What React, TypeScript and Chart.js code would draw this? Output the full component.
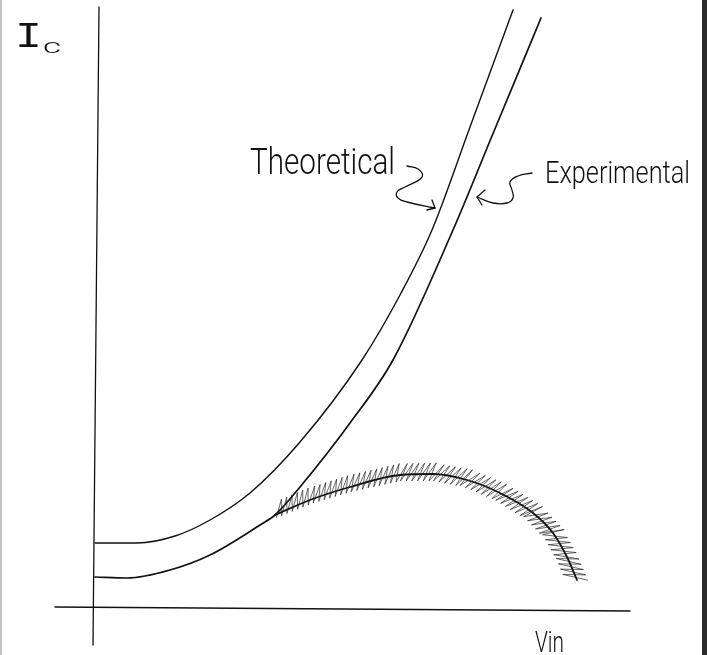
import React, { useEffect, useRef } from "react";
import { Chart, registerables } from "chart.js";

Chart.register(...registerables);

type P = { x: number; y: number };

// Data space: Vin (horizontal) and Ic (vertical), arbitrary units.
const theoretical: P[] = [
  { x: 0.0, y: 0.64 },
  { x: 0.42, y: 0.64 },
  { x: 0.8, y: 0.71 },
  { x: 1.15, y: 0.87 },
  { x: 1.55, y: 1.14 },
  { x: 2.05, y: 1.65 },
  { x: 2.67, y: 2.47 },
  { x: 3.05, y: 3.12 },
  { x: 3.37, y: 3.77 },
  { x: 3.75, y: 4.8 },
  { x: 4.18, y: 5.97 },
];

const experimental: P[] = [
  { x: 0.0, y: 0.3 },
  { x: 0.32, y: 0.29 },
  { x: 0.75, y: 0.37 },
  { x: 1.15, y: 0.52 },
  { x: 1.65, y: 0.82 },
  { x: 1.8, y: 0.92 },
  { x: 2.05, y: 1.2 },
  { x: 2.55, y: 1.84 },
  { x: 2.98, y: 2.47 },
  { x: 3.58, y: 3.77 },
  { x: 3.97, y: 4.71 },
  { x: 4.46, y: 5.89 },
];

const breakdownCurve: P[] = [
  { x: 1.8, y: 0.92 },
  { x: 2.15, y: 1.07 },
  { x: 2.55, y: 1.2 },
  { x: 3.05, y: 1.32 },
  { x: 3.38, y: 1.33 },
  { x: 3.72, y: 1.27 },
  { x: 4.05, y: 1.14 },
  { x: 4.38, y: 0.94 },
  { x: 4.58, y: 0.74 },
  { x: 4.72, y: 0.5 },
  { x: 4.82, y: 0.27 },
];

const yAxisLine: P[] = [
  { x: 0.04, y: 6.0 },
  { x: -0.02, y: -0.38 },
];

const xAxisLine: P[] = [
  { x: -0.4, y: 0.0 },
  { x: 5.35, y: -0.04 },
];

const theoreticalArrow: P[] = [
  { x: 3.12, y: 4.41 },
  { x: 3.23, y: 4.38 },
  { x: 3.27, y: 4.3 },
  { x: 3.1, y: 4.2 },
  { x: 3.02, y: 4.15 },
  { x: 3.03, y: 4.09 },
  { x: 3.12, y: 4.05 },
  { x: 3.4, y: 3.99 },
];

const theoreticalArrowHead: P[] = [
  { x: 3.37, y: 4.07 },
  { x: 3.4, y: 3.99 },
  { x: 3.32, y: 3.97 },
];

const experimentalArrow: P[] = [
  { x: 4.37, y: 4.34 },
  { x: 4.23, y: 4.31 },
  { x: 4.15, y: 4.25 },
  { x: 4.17, y: 4.17 },
  { x: 4.18, y: 4.09 },
  { x: 4.12, y: 4.04 },
  { x: 3.98, y: 4.04 },
  { x: 3.82, y: 4.1 },
];

const experimentalArrowHead: P[] = [
  { x: 3.9, y: 4.17 },
  { x: 3.82, y: 4.1 },
  { x: 3.87, y: 4.02 },
];

// Text labels anchored in data space (left, baseline)
const labelTexts = ["Theoretical", "Experimental", "I", "c", "Vin"];
const labelAnchors: P[] = [
  { x: 1.55, y: 4.33 },
  { x: 4.5, y: 4.24 },
  { x: -0.8, y: 5.6 },
  { x: -0.52, y: 5.54 },
  { x: 4.4, y: -0.45 },
];

const X_MIN = -0.93;
const X_MAX = 6.07;
const Y_MIN = -0.48;
const Y_MAX = 6.07;

const HATCH_INDEX = 2;

const SANS = "Roboto, 'Liberation Sans', Arial, sans-serif";
const labelStyles = [
  { family: SANS, weight: 300, size: 28, width: 145, sy: 1.3 },
  { family: SANS, weight: 300, size: 25, width: 145, sy: 1.25 },
  { family: "'Liberation Mono', 'DejaVu Sans Mono', monospace", weight: 400, size: 35, width: 27, sy: 1.05 },
  { family: SANS, weight: 300, size: 20, width: 18, sy: 1.0 },
  { family: SANS, weight: 300, size: 22, width: 29, sy: 1.3 },
];

const hatchPlugin = {
  id: "hatch",
  afterDatasetsDraw(chart: any) {
    const meta = chart.getDatasetMeta(HATCH_INDEX);
    const pts = meta.data.map((e: any) => ({ x: e.x, y: e.y }));
    const ctx = chart.ctx as CanvasRenderingContext2D;
    ctx.save();
    ctx.strokeStyle = "rgba(30,30,30,0.75)";
    ctx.lineWidth = 0.9;
    ctx.lineJoin = "round";
    ctx.beginPath();
    const step = 2.9;
    const slant = 0.6;
    let carry = 2;
    let toggle = false;
    let started = false;
    let total = 0;
    let full = 0;
    for (let i = 0; i < pts.length - 1; i++) {
      full += Math.hypot(pts[i + 1].x - pts[i].x, pts[i + 1].y - pts[i].y);
    }
    for (let i = 0; i < pts.length - 1; i++) {
      const a = pts[i];
      const b = pts[i + 1];
      const dx = b.x - a.x;
      const dy = b.y - a.y;
      const len = Math.hypot(dx, dy);
      if (len === 0) continue;
      const tx = dx / len;
      const ty = dy / len;
      const nx = ty;
      const ny = -tx;
      let s = carry;
      while (s < len) {
        const f = (total + s) / full;
        // marks sit above the curve at first, straddle it further along
        const up = 12 - 2 * f;
        const down = 3 + 8 * f;
        const px = a.x + tx * s;
        const py = a.y + ty * s;
        let qx: number;
        let qy: number;
        if (toggle) {
          qx = px + nx * up + tx * slant * up;
          qy = py + ny * up + ty * slant * up;
        } else {
          qx = px - nx * down - tx * slant * down;
          qy = py - ny * down - ty * slant * down;
        }
        if (!started) {
          ctx.moveTo(qx, qy);
          started = true;
        } else {
          ctx.lineTo(qx, qy);
        }
        toggle = !toggle;
        s += step;
      }
      carry = s - len;
      total += len;
    }
    ctx.stroke();
    ctx.restore();
  },
};

const labelPlugin = {
  id: "labels",
  afterDraw(chart: any) {
    const ctx = chart.ctx as CanvasRenderingContext2D;
    const xs = chart.scales.x;
    const ys = chart.scales.y;
    labelTexts.forEach((t, i) => {
      const st = labelStyles[i];
      const a = labelAnchors[i];
      const px = xs.getPixelForValue(a.x);
      const py = ys.getPixelForValue(a.y);
      ctx.save();
      ctx.font = `${st.weight} ${st.size}px ${st.family}`;
      ctx.fillStyle = "#111";
      ctx.textAlign = "left";
      ctx.textBaseline = "alphabetic";
      const m = ctx.measureText(t).width;
      const sx = st.width > 0 ? st.width / m : 1;
      ctx.translate(px, py);
      ctx.scale(sx, st.sy);
      ctx.fillText(t, 0, 0);
      ctx.restore();
    });
  },
};

function line(data: P[], width: number, tension: number, monotone = false, color = "#111") {
  return {
    data,
    borderColor: color,
    borderWidth: width,
    tension,
    cubicInterpolationMode: monotone ? ("monotone" as const) : ("default" as const),
    fill: false,
    pointRadius: 0,
    pointHoverRadius: 0,
    showLine: true,
    clip: false as any,
    borderCapStyle: "round" as const,
    borderJoinStyle: "round" as const,
  };
}

export default function App() {
  const ref = useRef<HTMLCanvasElement | null>(null);

  useEffect(() => {
    if (!ref.current) return;
    const chart = new Chart(ref.current, {
      type: "line",
      data: {
        datasets: [
          line(theoretical, 1.4, 0.4, true),
          line(experimental, 1.7, 0.4, true),
          line(breakdownCurve, 1.8, 0.4, true),
          line(yAxisLine, 1.3, 0),
          line(xAxisLine, 1.3, 0),
          line(theoreticalArrow, 1.3, 0.45),
          line(theoreticalArrowHead, 1.3, 0),
          line(experimentalArrow, 1.3, 0.45),
          line(experimentalArrowHead, 1.3, 0),
        ] as any,
      },
      options: {
        animation: false,
        responsive: false,
        maintainAspectRatio: false,
        layout: { padding: 0 },
        events: [],
        plugins: {
          legend: { display: false },
          tooltip: { enabled: false },
          title: { display: false },
        },
        scales: {
          x: { type: "linear", display: false, min: X_MIN, max: X_MAX },
          y: { type: "linear", display: false, min: Y_MIN, max: Y_MAX },
        },
      },
      plugins: [hatchPlugin, labelPlugin],
    });
    return () => chart.destroy();
  }, []);

  return (
    <div
      style={{
        position: "fixed",
        left: 0,
        top: 0,
        width: 707,
        height: 655,
        boxSizing: "border-box",
        background: "#fff",
        borderLeft: "2px solid #c4c4c4",
        borderRight: "5px solid #2b2b2b",
        overflow: "hidden",
      }}
    >
      <canvas ref={ref} width={700} height={655} style={{ display: "block", width: 700, height: 655 }} />
    </div>
  );
}
